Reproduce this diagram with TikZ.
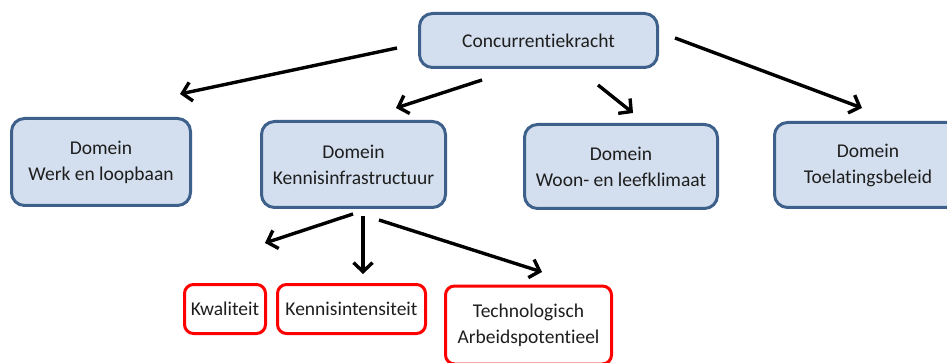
\documentclass[tikz,border=0pt]{standalone}
\usepackage{fontspec}
\setmainfont[Ligatures={NoCommon}]{Carlito}
\usetikzlibrary{arrows.meta}
\definecolor{boxfill}{RGB}{211,223,238}
\definecolor{boxline}{RGB}{62,97,140}
\definecolor{txt}{RGB}{30,30,30}
\begin{document}
\begin{tikzpicture}[x=1pt,y=-1pt,
  bluebox/.style={draw=boxline, fill=boxfill, line width=3pt, rounded corners=13pt,
    align=center, inner sep=0pt, text=txt, font=\fontsize{19.5}{26}\selectfont},
  redbox/.style={draw=red, fill=white, line width=3pt, rounded corners=9pt,
    align=center, inner sep=0pt, text=txt, font=\fontsize{19.5}{26}\selectfont},
  arr/.style={line width=3.4pt, -{Straight Barb[length=9pt,width=19pt,line width=3.4pt]}}]
\useasboundingbox (0,0) rectangle (947,363);
\node[bluebox, minimum width=238pt, minimum height=54pt] (top) at (538.5,40.5) {Concurrentiekracht};
\node[bluebox, minimum width=179pt, minimum height=87pt] (werk) at (101,162) {Domein\\Werk en loopbaan};
\node[bluebox, minimum width=184pt, minimum height=86pt] (kennis) at (353.5,164.5) {Domein\\Kennisinfrastructuur};
\node[bluebox, minimum width=193pt, minimum height=84pt] (woon) at (621,166.5) {Domein\\Woon- en leefklimaat};
\node[bluebox, minimum width=187pt, minimum height=85pt] (toel) at (868,165) {Domein\\Toelatingsbeleid};
\node[redbox, minimum width=81pt, minimum height=49pt] (kwal) at (225,309) {Kwaliteit};
\node[redbox, minimum width=148pt, minimum height=49pt] (kint) at (351.5,309) {Kennisintensiteit};
\node[redbox, minimum width=166pt, minimum height=78pt] (tech) at (528.5,325) {Technologisch\\Arbeidspotentieel};
% arrow end points
\coordinate (a1s) at (397,48);  \coordinate (a1e) at (180,94);
\coordinate (a2s) at (482,80);  \coordinate (a2e) at (396,108);
\coordinate (a3s) at (598,85);  \coordinate (a3e) at (633,113);
\coordinate (a4s) at (675,38);  \coordinate (a4e) at (862,108);
\coordinate (b1s) at (353,214); \coordinate (b1e) at (265,243);
\coordinate (b2s) at (363,216); \coordinate (b2e) at (363,274);
\coordinate (b3s) at (379,220); \coordinate (b3e) at (542,272);
\draw[arr] (a1s) -- (a1e);
\draw[arr] (a2s) -- (a2e);
\draw[arr] (a3s) -- (a3e);
\draw[arr] (a4s) -- (a4e);
\draw[arr] (b1s) -- (b1e);
\draw[arr] (b2s) -- (b2e);
\draw[arr] (b3s) -- (b3e);
\end{tikzpicture}
\end{document}
